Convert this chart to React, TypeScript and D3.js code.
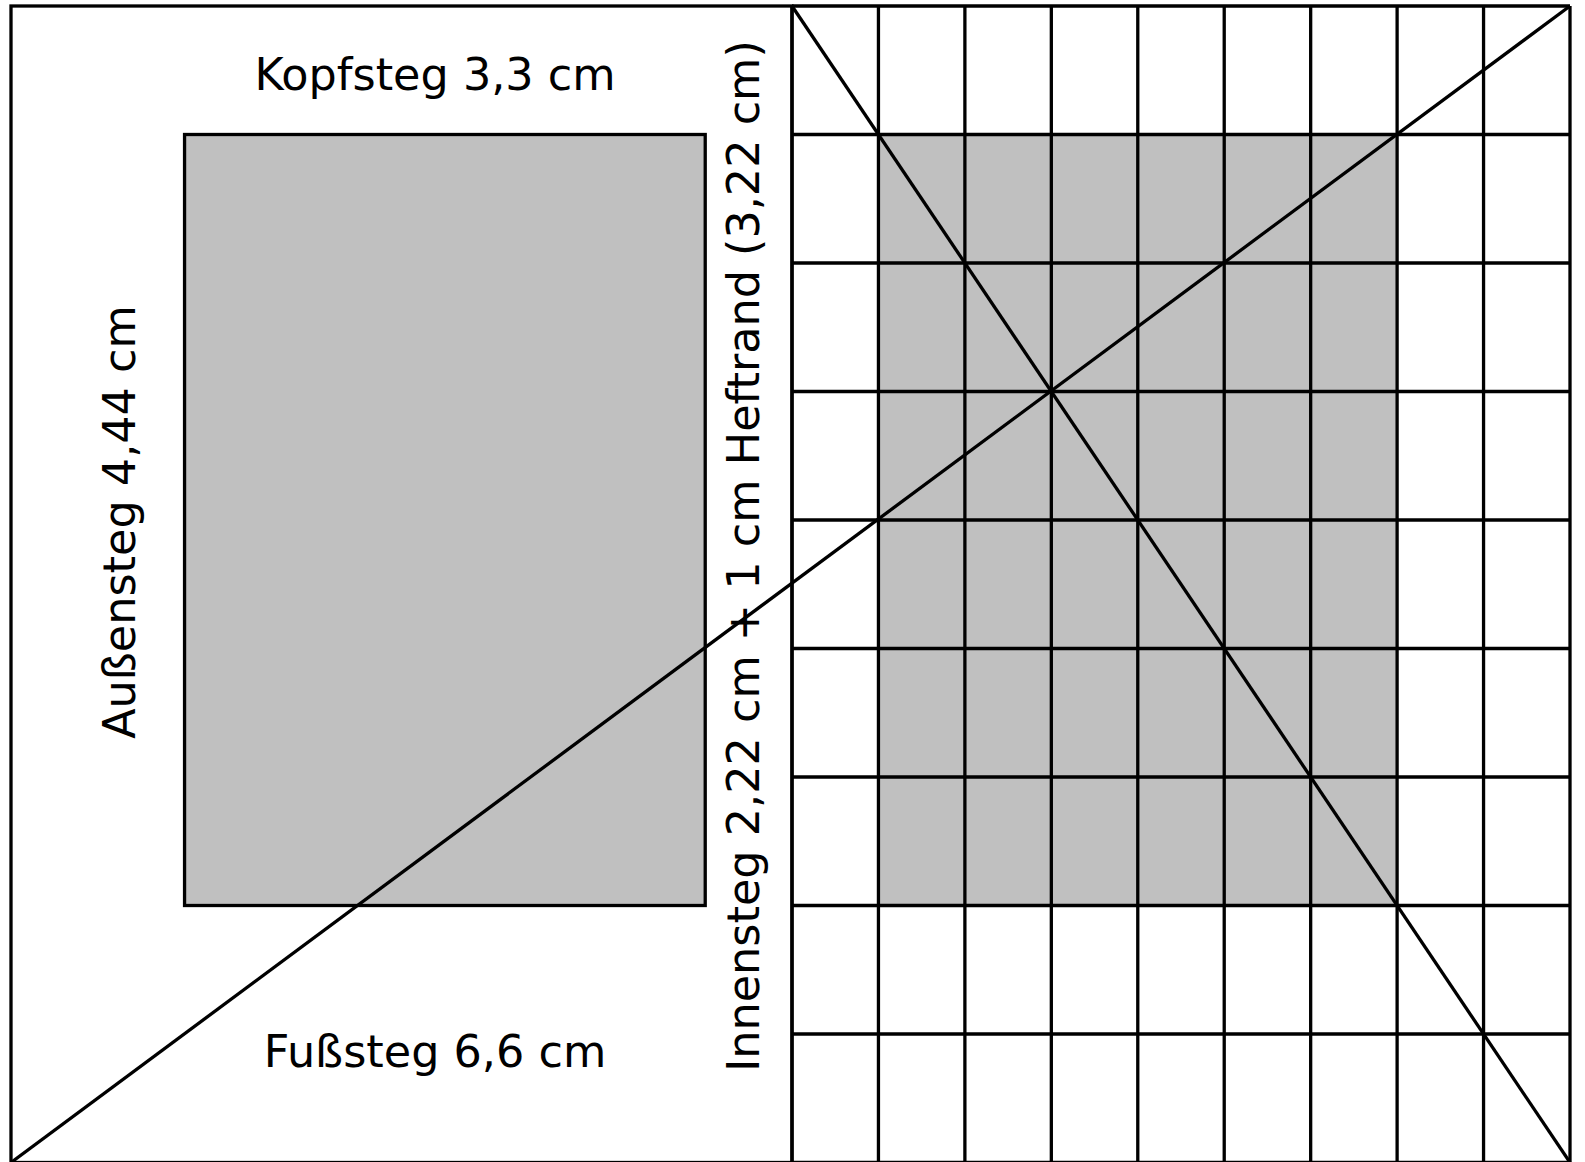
import React from 'react';
import * as d3 from 'd3';

// Satzspiegel nach der Neunerteilung
const gridSteps = d3.range(0, 10); // 0..9 Teilungslinien
const textBlockCols = [2, 8]; // linke Seite (gespiegelt): Außensteg 2, Innensteg 1
const textBlockColsRight = [1, 7];
const textBlockRows = [1, 7];

const labelTop = 'Kopfsteg 3,3 cm';
const labelBottom = 'Fußsteg 6,6 cm';
const labelOuter = 'Außensteg 4,44 cm';
const labelInner = 'Innensteg 2,22 cm + 1 cm Heftrand (3,22 cm)';

const W = 1585;
const H = 1162;

export default function App() {
  const y = d3.scaleLinear().domain([0, 9]).range([6, 1162.5]);
  const xL = d3.scaleLinear().domain([0, 9]).range([11, 792]);
  const xR = d3.scaleLinear().domain([0, 9]).range([792, 1570]);

  const stroke = '#000';
  const sw = 3.3;
  const font = { fontFamily: 'DejaVu Sans', fontSize: 44.5, fill: '#000' };

  const line = d3.line<[number, number]>();
  const diag1: [number, number][] = [[xL(0), y(9)], [xR(9), y(0)]];
  const diag2: [number, number][] = [[xR(0), y(0)], [xR(9), y(9)]];

  return (
    <div style={{ position: 'fixed', left: 0, top: 0 }}>
      <svg width={W} height={H} viewBox={`0 0 ${W} ${H}`} style={{ display: 'block', background: '#fff' }}>
        {/* Satzspiegel links */}
        <rect
          x={xL(textBlockCols[0])}
          y={y(textBlockRows[0])}
          width={xL(textBlockCols[1]) - xL(textBlockCols[0])}
          height={y(textBlockRows[1]) - y(textBlockRows[0])}
          fill="#c0c0c0"
          stroke={stroke}
          strokeWidth={sw}
        />
        {/* Satzspiegel rechts */}
        <rect
          x={xR(textBlockColsRight[0])}
          y={y(textBlockRows[0])}
          width={xR(textBlockColsRight[1]) - xR(textBlockColsRight[0])}
          height={y(textBlockRows[1]) - y(textBlockRows[0])}
          fill="#c0c0c0"
        />
        {/* Rahmen linke Seite */}
        <rect x={xL(0)} y={y(0)} width={xL(9) - xL(0)} height={y(9) - y(0)} fill="none" stroke={stroke} strokeWidth={sw} />
        {/* Raster rechte Seite */}
        {gridSteps.map(i => (
          <line key={'v' + i} x1={xR(i)} x2={xR(i)} y1={y(0)} y2={y(9)} stroke={stroke} strokeWidth={sw} />
        ))}
        {gridSteps.map(j => (
          <line key={'h' + j} x1={xR(0)} x2={xR(9)} y1={y(j)} y2={y(j)} stroke={stroke} strokeWidth={sw} />
        ))}
        {/* Diagonalen */}
        <path d={line(diag1) || ''} fill="none" stroke={stroke} strokeWidth={sw} />
        <path d={line(diag2) || ''} fill="none" stroke={stroke} strokeWidth={sw} />

        {/* Beschriftung */}
        <text x={435} y={90} textAnchor="middle" {...font}>{labelTop}</text>
        <text x={435} y={1067} textAnchor="middle" {...font}>{labelBottom}</text>
        <text transform="translate(135,522) rotate(-90)" textAnchor="middle" {...font}>{labelOuter}</text>
        <text transform="translate(759,556) rotate(-90)" textAnchor="middle" {...font}>{labelInner}</text>
      </svg>
    </div>
  );
}
